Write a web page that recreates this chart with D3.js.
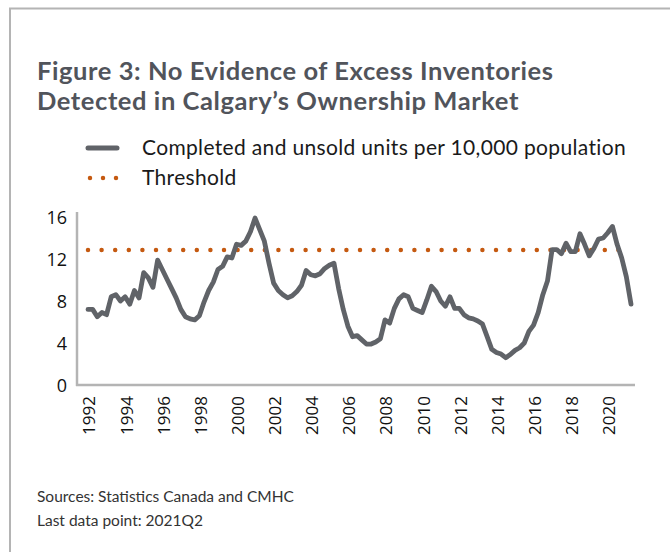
<!DOCTYPE html>
<html>
<head>
<meta charset="utf-8">
<script src="https://cdn.jsdelivr.net/npm/d3@7/dist/d3.min.js"></script>
<style>
  html, body { margin: 0; padding: 0; background: #fff; }
  svg { display: block; }
</style>
</head>
<body>
<svg id="chart" width="670" height="552"></svg>
<script>
// ---- Data ----
const startYear = 1992;
const endQuarterLabel = "2021Q2";
const values = [
  7.2, 7.2, 6.5, 6.9, 6.7, 8.4, 8.6, 8.0, 8.4, 7.7,
  9.0, 8.3, 10.7, 10.2, 9.3, 11.9, 11.0, 10.1, 9.2, 8.3,
  7.2, 6.5, 6.3, 6.2, 6.6, 7.9, 9.0, 9.8, 11.0, 11.3,
  12.2, 12.1, 13.4, 13.3, 13.7, 14.6, 15.9, 14.8, 13.7, 11.6,
  9.7, 9.0, 8.6, 8.3, 8.5, 8.9, 9.5, 10.9, 10.5, 10.4,
  10.6, 11.1, 11.4, 11.6, 9.2, 7.2, 5.6, 4.6, 4.7, 4.3,
  3.9, 3.9, 4.1, 4.4, 6.2, 5.9, 7.3, 8.2, 8.6, 8.4,
  7.3, 7.1, 6.9, 8.1, 9.4, 8.9, 8.0, 7.5, 8.4, 7.3,
  7.3, 6.7, 6.4, 6.3, 6.1, 5.8, 4.6, 3.4, 3.1, 2.95,
  2.6, 2.9, 3.3, 3.55, 4.0, 5.1, 5.7, 6.9, 8.6, 9.9,
  12.9, 12.9, 12.5, 13.5, 12.7, 12.7, 14.4, 13.4, 12.3, 13.0,
  13.9, 14.0, 14.5, 15.1, 13.4, 12.1, 10.3, 7.7
];
const threshold = 12.85;
const yTicks = [0, 4, 8, 12, 16];
const xTickYears = [1992, 1994, 1996, 1998, 2000, 2002, 2004, 2006, 2008, 2010, 2012, 2014, 2016, 2018, 2020];
const categories = values.map((v, i) => (startYear + Math.floor(i / 4)) + "Q" + (i % 4 + 1));

const titleLines = ["Figure 3: No Evidence of Excess Inventories", "Detected in Calgary\u2019s Ownership Market"];
const legendLabels = ["Completed and unsold units per 10,000 population", "Threshold"];
const sourceLines = ["Sources: Statistics Canada and CMHC", "Last data point: " + endQuarterLabel];

// ---- Layout ----
const svg = d3.select("#chart");
const lineColor = "#606368";
const threshColor = "#c55a11";
const axisColor = "#b4b4b4";

function fitFont(sel, targetWidth, baseSize) {
  const w = sel.node().getComputedTextLength();
  const s = baseSize * targetWidth / w;
  return s;
}

// frame
svg.append("path")
  .attr("d", "M10,552 L10,8.5 L670,8.5")
  .attr("fill", "none").attr("stroke", "#b4b4b4").attr("stroke-width", 2);

// title
const titleG = svg.append("g")
  .attr("font-family", "Lato, 'Open Sans', sans-serif")
  .attr("font-weight", "bold")
  .attr("fill", "#51545b");
const titleText = titleG.selectAll("text").data(titleLines).join("text")
  .attr("x", 37).attr("y", (d, i) => 80 + i * 30)
  .attr("font-size", 22)
  .text(d => d);
const tSize = fitFont(titleText.filter((d, i) => i === 0), 516, 22);
titleText.attr("font-size", Math.min(tSize, 25.5));
titleText.attr("letter-spacing", function () {
  const w = this.getComputedTextLength();
  return 0;
});
// if still short, spread line 1 to width
{
  const n = titleText.filter((d, i) => i === 0).node();
  const w = n.getComputedTextLength();
  if (w < 512) {
    const ls = (516 - w) / (titleLines[0].length - 1);
    titleText.attr("letter-spacing", ls);
  }
}

// scales
const x = d3.scaleLinear().domain([0, values.length - 1]).range([88, 631]);
const y = d3.scaleLinear().domain([0, 16]).range([385, 217]);

// legend
const leg = svg.append("g");
leg.append("line").attr("x1", 88).attr("x2", 117).attr("y1", 148).attr("y2", 148)
  .attr("stroke", lineColor).attr("stroke-width", 5).attr("stroke-linecap", "round");
leg.append("line").attr("x1", 90).attr("x2", 118).attr("y1", 178).attr("y2", 178)
  .attr("stroke", threshColor).attr("stroke-width", 4.5).attr("stroke-linecap", "round")
  .attr("stroke-dasharray", "0 13");
const legText = leg.selectAll("text").data(legendLabels).join("text")
  .attr("x", 142).attr("y", (d, i) => 155 + i * 30)
  .attr("font-family", "Lato, 'Open Sans', sans-serif")
  .attr("font-size", 20)
  .attr("fill", "#1a1a1a")
  .text(d => d);
{
  const s = fitFont(legText.filter((d, i) => i === 0), 484, 20);
  legText.attr("font-size", Math.min(s, 21));
  const w = legText.filter((d, i) => i === 0).node().getComputedTextLength();
  if (w < 480) legText.attr("letter-spacing", (484 - w) / (legendLabels[0].length - 1));
}

// axes
const yAxis = svg.append("g").attr("transform", "translate(77,0)")
  .call(d3.axisLeft(y).tickValues(yTicks).tickSize(0).tickPadding(10));
yAxis.select(".domain").remove();
yAxis.append("line").attr("x1", 0).attr("x2", 0).attr("y1", 212).attr("y2", 386)
  .attr("stroke", axisColor).attr("stroke-width", 2.5);
yAxis.selectAll(".tick text")
  .attr("font-family", "'Open Sans', sans-serif").attr("font-size", 18).attr("fill", "#111")
  .attr("dy", "0.35em");

const xAxis = svg.append("g").attr("transform", "translate(0,385)")
  .call(d3.axisBottom(x).tickValues(xTickYears.map(yr => (yr - startYear) * 4))
    .tickFormat((d, i) => xTickYears[i]).tickSize(0));
xAxis.select(".domain").remove();
xAxis.append("line").attr("x1", 76).attr("x2", 635).attr("y1", 0).attr("y2", 0)
  .attr("stroke", axisColor).attr("stroke-width", 2.5);
xAxis.selectAll(".tick text")
  .attr("font-family", "'Open Sans', sans-serif").attr("font-size", 17).attr("fill", "#111")
  .attr("text-anchor", "end")
  .attr("transform", "rotate(-90)")
  .attr("x", -11).attr("y", 1).attr("dy", "0.35em");

// threshold
svg.append("line")
  .attr("x1", x(0)).attr("x2", x(values.length - 1))
  .attr("y1", y(threshold)).attr("y2", y(threshold))
  .attr("stroke", threshColor).attr("stroke-width", 4.5).attr("stroke-linecap", "round")
  .attr("stroke-dasharray", "0 13.6");

// series line
svg.append("path").datum(values)
  .attr("fill", "none").attr("stroke", lineColor).attr("stroke-width", 4.8)
  .attr("stroke-linejoin", "round").attr("stroke-linecap", "round")
  .attr("d", d3.line().x((d, i) => x(i)).y(d => y(d)));

// sources
svg.append("g").selectAll("text").data(sourceLines).join("text")
  .attr("x", 37).attr("y", (d, i) => 502 + i * 24)
  .attr("font-family", "Lato, 'Open Sans', sans-serif")
  .attr("font-size", 15.5)
  .attr("fill", "#333")
  .text(d => d);
</script>
</body>
</html>
